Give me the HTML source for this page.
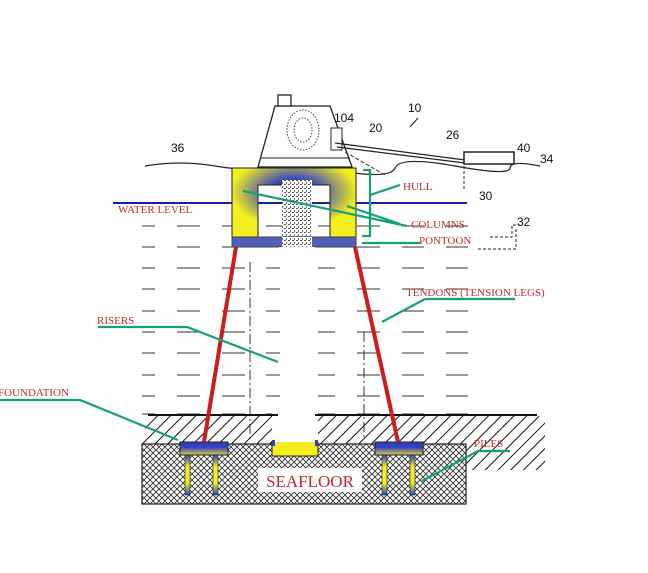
<!DOCTYPE html>
<html><head><style>
html,body{margin:0;padding:0;background:#fff;}
svg{display:block;}
.lb{font-family:"Liberation Serif",serif;fill:#c8282c;font-size:11px;}
.nm{font-family:"Liberation Sans",sans-serif;fill:#111;font-size:12px;}
</style></head><body>
<svg width="648" height="573" viewBox="0 0 648 573" xmlns="http://www.w3.org/2000/svg">
<defs>
<pattern id="diag" width="9" height="9" patternUnits="userSpaceOnUse" patternTransform="rotate(45)">
<line x1="0" y1="0" x2="0" y2="9" stroke="#111" stroke-width="2"/></pattern>
<pattern id="cross" width="6" height="6" patternUnits="userSpaceOnUse">
<rect width="6" height="6" fill="#fff"/>
<path d="M0 6L6 0M0 0L6 6" stroke="#333" stroke-width="0.9"/></pattern>
<pattern id="rtex" width="4" height="4" patternUnits="userSpaceOnUse">
<rect width="4" height="4" fill="#fff"/><rect width="2" height="1" fill="#555"/><rect x="2" y="2" width="1" height="2" fill="#777"/></pattern>
<radialGradient id="hullg" cx="0.5" cy="0.35" r="0.6">
<stop offset="0.3" stop-color="#3040c0"/><stop offset="0.85" stop-color="#f4ee20"/></radialGradient>
<linearGradient id="pile" x1="0" y1="0" x2="0" y2="1">
<stop offset="0" stop-color="#3040c0"/><stop offset="0.3" stop-color="#f4ee20"/><stop offset="0.7" stop-color="#f4ee20"/><stop offset="1" stop-color="#3040c0"/></linearGradient>
<linearGradient id="fnd" x1="0" y1="0" x2="0" y2="1">
<stop offset="0.4" stop-color="#3040c0"/><stop offset="1" stop-color="#d8d040"/></linearGradient>
</defs>

<g stroke="#333" stroke-width="1">
<g id="row1">
<line x1="142" y1="226" x2="155" y2="226"/><line x1="177" y1="226" x2="200" y2="226"/><line x1="222" y1="226" x2="245" y2="226"/><line x1="266" y1="226" x2="290" y2="226"/><line x1="318" y1="226" x2="335" y2="226"/><line x1="357" y1="226" x2="380" y2="226"/><line x1="402" y1="226" x2="424" y2="226"/><line x1="446" y1="226" x2="468" y2="226"/>
</g>
<use href="#row1" y="21"/><use href="#row1" y="42"/><use href="#row1" y="63"/><use href="#row1" y="85"/><use href="#row1" y="106"/><use href="#row1" y="127"/><use href="#row1" y="149"/><use href="#row1" y="170"/><use href="#row1" y="188"/>
</g>
<rect x="280" y="247" width="35" height="200" fill="#fff"/>
<line x1="250" y1="262" x2="250" y2="440" stroke="#333" stroke-dasharray="10,3,2,3"/>
<line x1="364" y1="332" x2="364" y2="440" stroke="#333" stroke-dasharray="10,3,2,3"/>

<path d="M148 415H537L545 420L545 470H466V444H142Z" fill="url(#diag)"/>
<rect x="272" y="413" width="46" height="32" fill="#fff"/>
<line x1="148" y1="415" x2="278" y2="415" stroke="#111" stroke-width="2"/>
<line x1="315" y1="415" x2="537" y2="415" stroke="#111" stroke-width="2"/>
<rect x="142" y="444" width="324" height="60" fill="url(#cross)" stroke="#222" stroke-width="1.2"/>
<rect x="258" y="468" width="104" height="24" fill="#fff"/>
<text x="310" y="487" text-anchor="middle" style="font-family:'Liberation Serif',serif;fill:#c8282c;font-size:17px;">SEAFLOOR</text>

<path d="M272 442V456H318V442" fill="#f4ee20" stroke="#222"/>
<rect x="272" y="440" width="3" height="6" fill="#3040c0"/><rect x="315" y="440" width="3" height="6" fill="#3040c0"/>
<rect x="180" y="442" width="48" height="13" fill="url(#fnd)" stroke="#222"/>
<rect x="375" y="442" width="48" height="13" fill="url(#fnd)" stroke="#222"/>
<rect x="185" y="455" width="5" height="40" fill="url(#pile)" stroke="#222" stroke-width="0.6"/>
<rect x="213" y="455" width="5" height="40" fill="url(#pile)" stroke="#222" stroke-width="0.6"/>
<rect x="382" y="455" width="5" height="40" fill="url(#pile)" stroke="#222" stroke-width="0.6"/>
<rect x="410" y="455" width="5" height="40" fill="url(#pile)" stroke="#222" stroke-width="0.6"/>

<line x1="236" y1="247" x2="204" y2="442" stroke="#cc1c1c" stroke-width="4"/>
<line x1="355" y1="247" x2="398" y2="442" stroke="#cc1c1c" stroke-width="4"/>

<line x1="113" y1="203" x2="467" y2="203" stroke="#1a20a0" stroke-width="2"/>

<path d="M145 166Q180 160 215 166T265 166T335 170T395 168T455 166T510 168T540 166" fill="none" stroke="#222" stroke-width="1.2"/>

<path d="M258 167L275 106H330L352 167Z" fill="#fff" stroke="#222" stroke-width="1.3"/>
<rect x="278" y="95" width="13" height="11" fill="#fff" stroke="#222" stroke-width="1.3"/>
<ellipse cx="303" cy="130" rx="16" ry="20" fill="none" stroke="#444" stroke-dasharray="1.5,1.5"/>
<ellipse cx="303" cy="130" rx="9" ry="12" fill="none" stroke="#444" stroke-dasharray="1.5,1.5"/>
<rect x="331" y="128" width="11" height="22" fill="#fff" stroke="#222"/>
<line x1="260" y1="158" x2="350" y2="158" stroke="#222"/>
<path d="M335 143L465 160M337 147L465 163" stroke="#222" stroke-width="1.2"/>
<path d="M345 152L385 175" stroke="#333" stroke-dasharray="4,2"/>
<rect x="464" y="152" width="50" height="12" fill="#fff" stroke="#222" stroke-width="1.5"/>
<line x1="464" y1="166" x2="464" y2="190" stroke="#222" stroke-dasharray="3,2"/>
<path d="M490 237H512V225H520M478 249H516V229" fill="none" stroke="#222" stroke-dasharray="3,2"/>

<path d="M232 168H356V238H330V185H258V238H232Z" fill="url(#hullg)" stroke="#222"/>
<rect x="282" y="180" width="30" height="68" fill="url(#rtex)"/>
<rect x="232" y="237" width="124" height="10" fill="#5060b8" stroke="#444"/>
<rect x="282" y="237" width="30" height="10" fill="url(#rtex)"/>
<rect x="279" y="247" width="36" height="6" fill="#fff"/>

<g stroke="#13a07a" stroke-width="2.2" fill="none">
<path d="M363 170H370V236H362M370 195L400 185"/>
<path d="M243 191L407 226M347 206L400 224"/>
<path d="M362 243L420 243"/>
<path d="M425 299H515M425 299L382 322"/>
<path d="M98 327H187L278 362"/>
<path d="M0 400H80L178 440"/>
<path d="M510 451H478L422 481"/>
</g>

<text class="lb" x="403" y="190">HULL</text>
<text class="lb" x="411" y="228">COLUMNS</text>
<text class="lb" x="419" y="244">PONTOON</text>
<text class="lb" x="118" y="213">WATER LEVEL</text>
<text class="lb" x="406" y="296">TENDONS (TENSION LEGS)</text>
<text class="lb" x="97" y="324">RISERS</text>
<text class="lb" x="-2" y="396">FOUNDATION</text>
<text class="lb" x="474" y="447">PILES</text>

<text class="nm" x="408" y="112">10</text>
<path d="M418 118L410 127" stroke="#222"/>
<text class="nm" x="334" y="122">104</text>
<text class="nm" x="369" y="132">20</text>
<text class="nm" x="446" y="139">26</text>
<text class="nm" x="517" y="152">40</text>
<text class="nm" x="540" y="163">34</text>
<text class="nm" x="171" y="152">36</text>
<text class="nm" x="479" y="200">30</text>
<text class="nm" x="517" y="226">32</text>
</svg>
</body></html>
